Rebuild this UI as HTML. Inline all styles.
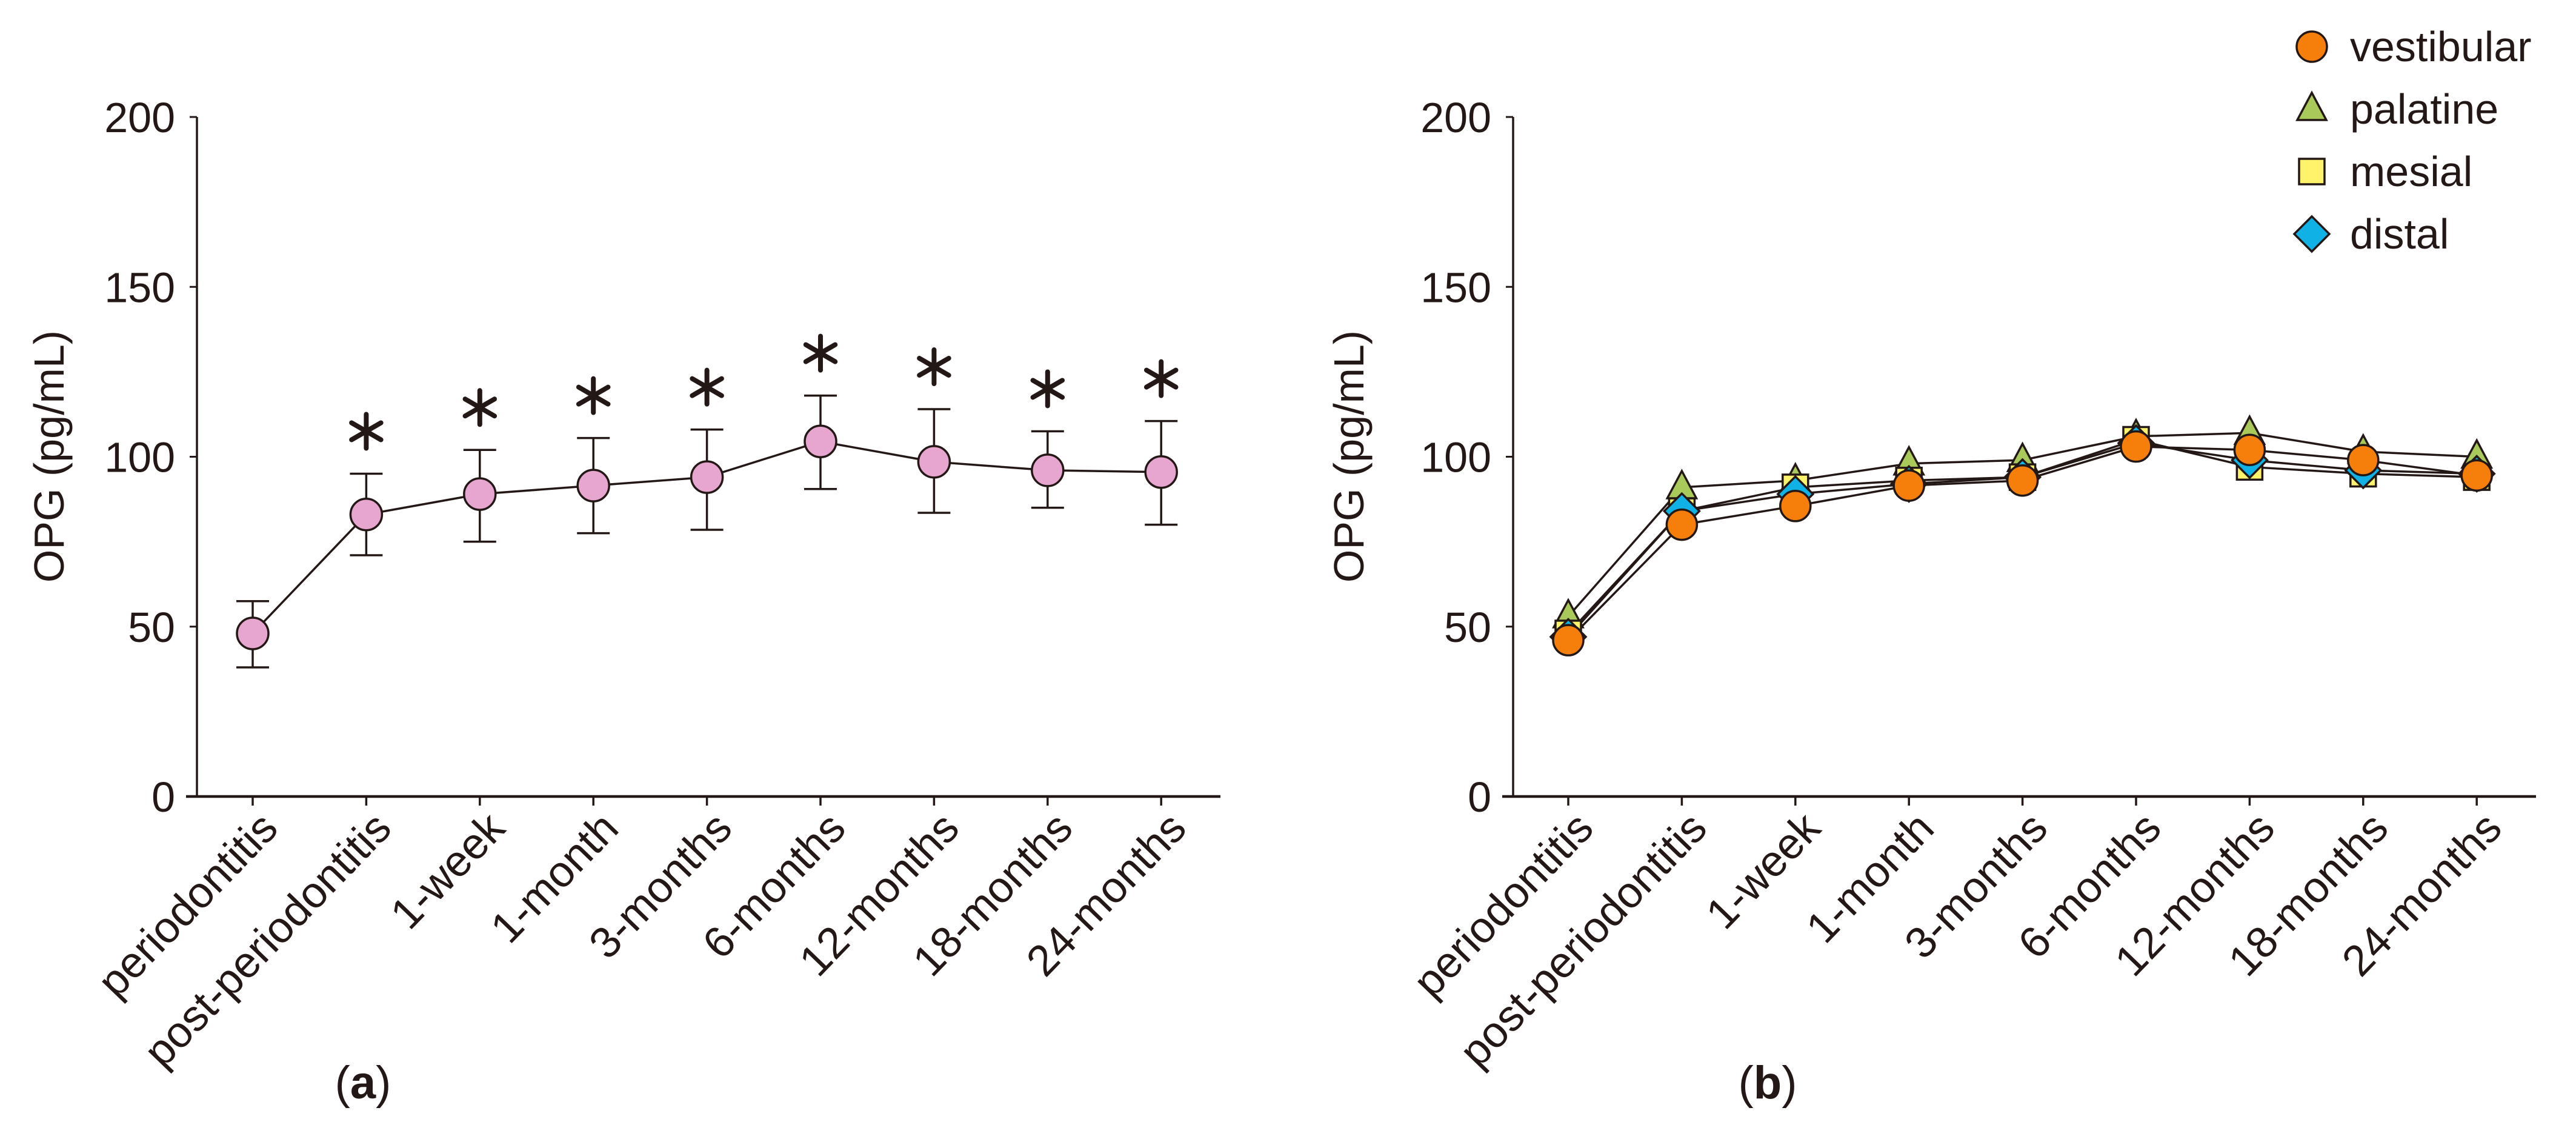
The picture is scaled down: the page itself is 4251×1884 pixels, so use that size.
<!DOCTYPE html>
<html><head><meta charset="utf-8"><style>
html,body{margin:0;padding:0;background:#fff;}
svg{display:block;}
text{font-family:"Liberation Sans",Arial,sans-serif;fill:#231815;}
</style></head><body>
<svg id="chart" width="4251" height="1884" viewBox="0 0 4251 1884" xmlns="http://www.w3.org/2000/svg">
<g id="pa"></g>
<g id="pb"></g>
</svg>
<script>
const categories = ["periodontitis","post-periodontitis","1-week","1-month","3-months","6-months","12-months","18-months","24-months"];
const yTicks = [0,50,100,150,200];
const meanA = [48,83,89,91.5,94,104.5,98.5,96,95.5];
const upperA = [57.5,95,102,105.5,108,118,114,107.5,110.5];
const lowerA = [38,71,75,77.5,78.5,90.5,83.5,85,80];
const sigA = [false,true,true,true,true,true,true,true,true];
const seriesNames = ["palatine","mesial","distal","vestibular"];
const palatine = [53,91,93,98,99,106,107,101.5,100];
const mesial = [48,84,91,93,94,105,97,95,94];
const distal = [47,84,89,92,94,104,99,96,95];
const vestibular = [46,80,85.5,91.5,93,103,102,99,94.5];

const NS="http://www.w3.org/2000/svg";
const INK="#231815";
function mk(parent,tag,attrs){const e=document.createElementNS(NS,tag);for(const k in attrs)e.setAttribute(k,attrs[k]);parent.appendChild(e);return e;}
function yS(v){return 1314-(v/200)*(1314-193);}
function makeX(x0){return i=>x0+i*187.4;}

function axes(g,axX,tick0,axEnd,titleX){
  const xS=makeX(tick0);
  let l=mk(g,'line',{x1:axX,y1:193,x2:axX,y2:1316,stroke:INK,'stroke-width':3.5});
  
  
  l=mk(g,'line',{x1:axX-18,y1:1314,x2:axEnd,y2:1314,stroke:INK,'stroke-width':4.5});
  
  
  yTicks.forEach(v=>{
    const t=mk(g,'line',{x1:axX-12,y1:yS(v),x2:axX,y2:yS(v),stroke:INK,'stroke-width':3});
    
    
    const tx=mk(g,'text',{x:axX-36,y:yS(v)+25,'text-anchor':'end','font-size':70});
    tx.textContent=v;
    
    
  });
  categories.forEach((c,i)=>{
    const x=xS(i);
    const t=mk(g,'line',{x1:x,y1:1314,x2:x,y2:1329,stroke:INK,'stroke-width':3.5});
    
    
    const tx=mk(g,'text',{x:x+45,y:1370,'text-anchor':'end','font-size':72,transform:`rotate(-46 ${x+45} 1370)`});
    tx.textContent=c;
    
    
  });
  const tt=mk(g,'text',{x:titleX,y:753,'text-anchor':'middle','font-size':70,transform:`rotate(-90 ${titleX} 753)`});
  tt.textContent="OPG (pg/mL)";
  
  
  return xS;
}

// Panel A
const ga=document.getElementById('pa');
const xA=axes(ga,325,417,2014,105);
let d=meanA.map((v,i)=>(i?'L':'M')+xA(i)+' '+yS(v)).join(' ');
let p=mk(ga,'path',{d:d,fill:'none',stroke:INK,'stroke-width':3.5});


meanA.forEach((v,i)=>{
  const x=xA(i);
  const eb=mk(ga,'path',{d:`M${x} ${yS(upperA[i])}V${yS(lowerA[i])}M${x-27} ${yS(upperA[i])}H${x+27}M${x-27} ${yS(lowerA[i])}H${x+27}`,stroke:INK,'stroke-width':3.5,fill:'none'});
  
  
  const c=mk(ga,'circle',{cx:x,cy:yS(v),r:26,fill:'#e7a6cf',stroke:INK,'stroke-width':3.5});
  
  
  if(sigA[i]){
    const cy=yS(upperA[i])-70;
    const s=mk(ga,'g',{});
    
    
    [90,30,150].forEach(a=>{
      const r=a*Math.PI/180, dx=Math.cos(r)*28, dy=Math.sin(r)*28;
      mk(s,'line',{x1:x-dx,y1:cy-dy,x2:x+dx,y2:cy+dy,stroke:INK,'stroke-width':8,'stroke-linecap':'round'});
    });
  }
});
let lab=mk(ga,'text',{x:599,y:1812,'text-anchor':'middle','font-size':76});
lab.innerHTML='(<tspan font-weight="bold">a</tspan>)';



// Panel B
const gb=document.getElementById('pb');
const xB=axes(gb,2497,2588,4185,2250);
const seriesData=[palatine,mesial,distal,vestibular];
const fills={palatine:'#a9c95a',mesial:'#fff36b',distal:'#10b2e6',vestibular:'#f57f0a'};
function marker(g,name,x,y){
  let e;
  if(name==='vestibular') e=mk(g,'circle',{cx:x,cy:y,r:25});
  else if(name==='palatine') e=mk(g,'path',{d:`M${x} ${y-27}L${x+24} ${y+18}L${x-24} ${y+18}Z`});
  else if(name==='mesial') e=mk(g,'rect',{x:x-21,y:y-21,width:42,height:42});
  else e=mk(g,'path',{d:`M${x} ${y-29}L${x+29} ${y}L${x} ${y+29}L${x-29} ${y}Z`});
  e.setAttribute('fill',fills[name]);e.setAttribute('stroke',INK);e.setAttribute('stroke-width',3.5);
  return e;
}
seriesData.forEach((arr,si)=>{
  const pl=mk(gb,'path',{d:arr.map((v,i)=>(i?'L':'M')+xB(i)+' '+yS(v)).join(' '),fill:'none',stroke:INK,'stroke-width':3.5});
  
  
});
seriesData.forEach((arr,si)=>{
  arr.forEach((v,i)=>{
    const m=marker(gb,seriesNames[si],xB(i),yS(v));
    
    
  });
});
// Legend
const legOrder=["vestibular","palatine","mesial","distal"];
legOrder.forEach((n,i)=>{
  const y=77+i*103;
  const lg=mk(gb,'g',{});
  
  
  marker(lg,n,3815,y);
  const t=mk(lg,'text',{x:3878,y:y+24,'font-size':70});
  t.textContent=n;
});
lab=mk(gb,'text',{x:2917,y:1812,'text-anchor':'middle','font-size':76});
lab.innerHTML='(<tspan font-weight="bold">b</tspan>)';


</script>
</body></html>
